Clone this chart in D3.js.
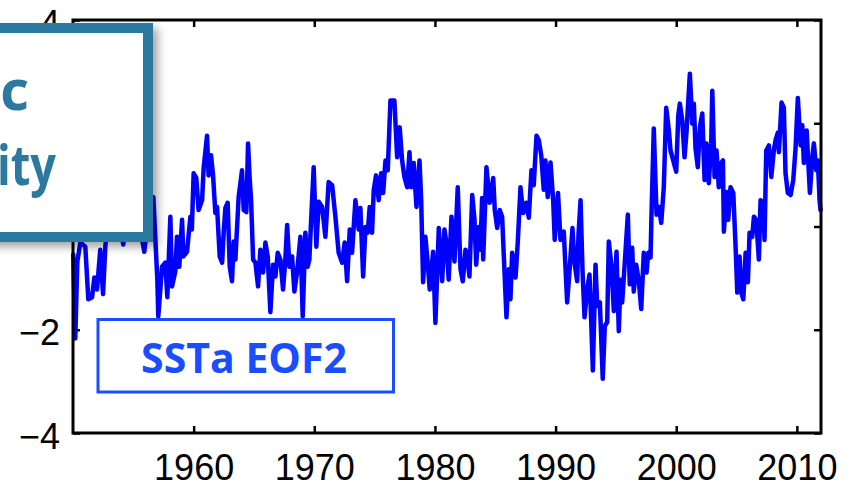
<!DOCTYPE html>
<html>
<head>
<meta charset="utf-8">
<script src="https://cdn.jsdelivr.net/npm/d3@7"></script>
<style>
  html, body { margin: 0; padding: 0; background: #fff; }
  svg { display: block; }
</style>
</head>
<body>
<svg></svg>
<script>
// SSTa EOF2 principal component
var years = [
  1950.02,1950.19,1950.36,1950.61,1951.02,1951.27,1951.58,1951.77,1951.99,1952.26,1952.49,1952.68,1952.93,1953.18,1953.42,1953.67,1953.92,1954.17,1954.42,1954.67,1954.92,1955.17,1955.41,1955.66,1955.91,1956.16,1956.41,1956.66,1956.99,1957.07,1957.38,1957.65,1957.82,1958.07,1958.21,1958.48,1958.62,1958.81,1959.04,1959.15,1959.45,1959.73,1959.85,
  1960.00,1960.22,1960.41,1960.70,1960.83,1961.11,1961.24,1961.44,1961.61,1961.80,1961.94,1962.16,1962.36,1962.49,1962.63,1962.82,1962.99,1963.18,1963.32,1963.46,1963.73,1964.01,1964.15,1964.37,1964.51,1964.64,1964.76,1964.93,1965.12,1965.34,1965.53,1965.76,1965.95,1966.14,1966.36,1966.58,1966.78,1966.97,1967.19,1967.41,1967.60,1967.75,1967.94,1968.16,1968.35,1968.57,1968.85,1969.04,1969.26,1969.45,1969.59,1969.76,1969.95,
  1970.17,1970.37,1970.65,1970.92,1971.19,1971.48,1971.75,1972.02,1972.31,1972.52,1972.72,1972.94,1973.13,1973.41,1973.68,1973.82,1974.05,1974.24,1974.43,1974.59,1974.79,1974.93,1975.12,1975.34,1975.54,1975.71,1975.90,1976.09,1976.31,1976.64,1976.87,1977.08,1977.28,1977.47,1977.70,1977.89,1978.03,1978.24,1978.47,1978.72,1978.86,1979.02,1979.21,1979.40,1979.57,1979.85,
  1980.04,1980.32,1980.60,1980.79,1980.95,1981.14,1981.37,1981.62,1981.89,1982.12,1982.31,1982.53,1982.67,1982.86,1983.09,1983.28,1983.42,1983.63,1983.77,1983.91,1984.00,1984.27,1984.54,1984.83,1984.96,1985.16,1985.37,1985.57,1985.93,1986.12,1986.26,1986.40,1986.68,1986.87,1987.09,1987.31,1987.56,1987.78,1988.00,1988.19,1988.42,1988.61,1988.81,1989.02,1989.16,1989.35,1989.58,1989.80,1989.93,
  1990.20,1990.41,1990.68,1990.96,1991.18,1991.40,1991.57,1991.79,1991.90,1992.07,1992.23,1992.40,1992.62,1992.81,1992.89,1993.09,1993.31,1993.45,1993.67,1993.91,1994.08,1994.28,1994.41,1994.64,1994.83,1995.05,1995.24,1995.38,1995.52,1995.71,1995.99,1996.15,1996.35,1996.48,1996.68,1996.90,1997.10,1997.31,1997.54,1997.68,1997.87,1997.95,1998.14,1998.37,1998.56,1998.76,1998.97,1999.17,1999.39,1999.53,1999.75,
  2000.00,2000.17,2000.30,2000.50,2000.69,2000.86,2001.13,2001.33,2001.46,2001.60,2001.79,2001.96,2002.16,2002.35,2002.51,2002.70,2002.90,2002.99,2003.18,2003.34,2003.53,2003.73,2003.87,2003.95,2004.17,2004.31,2004.50,2004.73,2004.92,2005.06,2005.25,2005.39,2005.56,2005.75,2005.94,2006.08,2006.30,2006.44,2006.63,2006.85,2006.99,2007.21,2007.32,2007.46,2007.68,2007.88,2008.09,2008.23,2008.43,2008.51,2008.73,2008.92,2009.06,2009.25,2009.48,2009.70,2009.89,
  2010.08,2010.31,2010.45,2010.58,2010.81,2010.95,2011.08,2011.28,2011.41,2011.61,2011.74,2011.88,2011.96
];
var eof2 = [
  -0.54,-2.17,-0.68,-0.31,-0.39,-1.41,-1.37,-0.99,-1.22,-0.45,-1.31,-0.39,0.23,0.51,0.13,0.42,-0.06,-0.35,0.13,0.51,0.23,0.61,0.03,-0.16,-0.49,0.03,0.42,0.57,-1.03,-1.74,-0.78,-0.70,-1.37,0.19,-1.16,-0.87,-0.20,-0.78,0.13,-0.58,-0.49,0.19,-0.06,
  1.03,0.94,0.32,0.51,1.13,1.76,0.99,1.38,0.99,0.26,0.38,-0.58,-0.70,-0.12,0.36,0.46,-0.78,-1.06,-0.29,-0.64,0.57,1.09,0.32,0.28,1.61,0.94,0.51,-0.64,-0.70,-1.16,-0.45,-0.89,-0.31,-0.58,-1.66,-0.74,-0.97,-0.51,-0.64,-1.22,-0.64,0.03,-0.78,-0.58,-1.26,-0.89,-0.20,-1.74,-0.12,-0.78,-0.64,0.23,1.15,
  -0.39,0.48,0.38,-0.20,0.86,0.80,0.19,-0.51,-0.70,-0.31,-1.06,-0.06,-0.51,0.51,-0.06,0.36,-0.97,-0.01,-0.12,0.38,-0.12,0.71,0.99,0.51,1.03,0.65,1.28,1.09,2.44,2.44,1.34,1.92,1.28,0.96,0.76,1.44,0.76,1.23,0.38,1.28,0.51,-1.08,-0.20,-0.70,-1.22,-0.49,
  -1.87,-0.03,-1.06,-0.06,-0.31,-1.03,0.19,-0.68,0.76,-0.83,-1.06,-0.45,-0.54,-0.97,0.61,0.13,-0.74,-0.01,-0.45,0.55,-0.64,1.15,0.46,0.94,0.32,-0.03,0.32,0.19,-1.76,-0.83,-1.41,-0.51,-0.99,-0.29,0.76,0.26,0.46,0.17,1.09,0.80,1.76,1.67,1.38,0.71,1.28,0.57,1.24,0.51,-0.26,
  0.65,-0.26,-0.10,-1.47,-0.78,-0.03,-0.70,-1.06,-0.16,0.51,-0.83,-1.76,-1.22,-0.93,-1.41,-2.79,-0.74,-1.54,-1.47,-2.95,-1.93,-1.85,-0.29,-0.78,-1.64,-0.49,-2.03,-1.03,-1.47,-0.79,0.23,-1.12,-0.41,-1.26,-0.74,-1.06,-1.60,-0.51,-0.89,-0.51,-0.60,0.23,1.90,0.23,0.38,0.07,0.76,2.30,1.86,1.47,1.28,
  1.06,2.15,2.38,2.05,1.34,1.86,2.96,1.99,2.38,1.51,1.15,1.92,2.19,0.90,1.61,0.84,1.61,2.63,0.96,1.47,0.76,1.23,1.28,-0.10,0.67,0.13,0.76,0.65,-0.39,-1.28,-0.58,-1.28,-1.41,-0.51,-1.08,-0.12,-0.20,0.19,0.13,-0.64,0.51,0.46,-0.26,1.47,1.57,0.96,1.47,1.67,1.82,1.44,2.40,2.30,1.03,0.65,0.61,0.90,1.51,
  2.49,1.57,1.96,1.23,1.86,1.23,0.65,1.34,1.61,1.09,1.28,0.51,0.32
];
var xTicks = [1960, 1970, 1980, 1990, 2000, 2010];
var yTicks = [-4, -2, 0, 2, 4];
// the labels for 0 and 2 sit under the callout box, only these show
var yLabelled = [-4, -2, 4];
var legendLabel = 'SSTa EOF2';
var boxLines = ['c', 'ity'];

var width = 856;
var height = 487;
var plotL = 73, plotR = 821, plotT = 20, plotB = 433;

var svg = d3.select('svg')
    .attr('width', width)
    .attr('height', height)
    .attr('viewBox', '0 0 ' + width + ' ' + height);

var x = d3.scaleLinear().domain([1950, 2012]).range([plotL, plotR]);
var y = d3.scaleLinear().domain([-4, 4]).range([plotB, plotT]);

var tickFont = '"Liberation Sans", Helvetica, Arial, sans-serif';

function styleAxis(g) {
    g.select('.domain').remove();
    g.selectAll('.tick line').attr('stroke', '#000').attr('stroke-width', 2.5);
    g.selectAll('.tick text')
        .attr('fill', '#000')
        .style('font-family', tickFont)
        .style('font-size', '36px');
}

svg.append('g')
    .attr('transform', 'translate(0,' + plotB + ')')
    .call(d3.axisBottom(x).tickValues(xTicks).tickFormat(d3.format('d'))
        .tickSize(-7).tickSizeOuter(0).tickPadding(21))
    .call(styleAxis);

svg.append('g')
    .attr('transform', 'translate(0,' + plotT + ')')
    .call(d3.axisTop(x).tickValues(xTicks).tickFormat('')
        .tickSize(-7).tickSizeOuter(0))
    .call(styleAxis);

var yFmt = d3.format('d');
svg.append('g')
    .attr('transform', 'translate(' + plotL + ',0)')
    .call(d3.axisLeft(y).tickValues(yTicks)
        .tickFormat(function (d) { return yLabelled.indexOf(d) >= 0 ? yFmt(d) : ''; })
        .tickSize(-7).tickSizeOuter(0).tickPadding(13))
    .call(styleAxis)
    .selectAll('.tick text').attr('dy', '0.42em');

svg.append('g')
    .attr('transform', 'translate(' + plotR + ',0)')
    .call(d3.axisRight(y).tickValues(yTicks).tickFormat('')
        .tickSize(-7).tickSizeOuter(0))
    .call(styleAxis);

// the series
var line = d3.line()
    .x(function (d, i) { return x(years[i]); })
    .y(function (d) { return y(d); });

svg.append('path')
    .datum(eof2)
    .attr('fill', 'none')
    .attr('stroke', '#0000ff')
    .attr('stroke-width', 4.5)
    .attr('stroke-linejoin', 'round')
    .attr('stroke-linecap', 'round')
    .attr('d', line);

// frame
svg.append('rect')
    .attr('x', plotL)
    .attr('y', plotT)
    .attr('width', plotR - plotL)
    .attr('height', plotB - plotT)
    .attr('fill', 'none')
    .attr('stroke', '#000')
    .attr('stroke-width', 3);

// legend label
svg.append('rect')
    .attr('x', 98)
    .attr('y', 319.5)
    .attr('width', 295.5)
    .attr('height', 72.5)
    .attr('fill', '#fff')
    .attr('stroke', '#1a4dff')
    .attr('stroke-width', 3);

svg.append('text')
    .attr('x', 244)
    .attr('y', 373)
    .attr('text-anchor', 'middle')
    .attr('fill', '#1a4dff')
    .style('font-family', '"Open Sans", sans-serif')
    .style('font-weight', 'bold')
    .style('font-size', '41px')
    .text(legendLabel);

// overlapping callout box at top left
var defs = svg.append('defs');
var shadow = defs.append('filter')
    .attr('id', 'shadow')
    .attr('x', '-20%').attr('y', '-20%')
    .attr('width', '150%').attr('height', '150%');
shadow.append('feDropShadow')
    .attr('dx', 5).attr('dy', 5)
    .attr('stdDeviation', 4)
    .attr('flood-color', '#000')
    .attr('flood-opacity', 0.35);

svg.append('rect')
    .attr('x', -20)
    .attr('y', 28)
    .attr('width', 168)
    .attr('height', 209)
    .attr('fill', '#fff')
    .attr('stroke', '#2c79a0')
    .attr('stroke-width', 10)
    .attr('filter', 'url(#shadow)');

svg.append('text')
    .attr('x', 29)
    .attr('y', 110)
    .attr('text-anchor', 'end')
    .attr('fill', '#2c79a0')
    .style('font-family', '"Open Sans", sans-serif')
    .style('font-weight', 'bold')
    .style('font-size', '56px')
    .text(boxLines[0]);

svg.append('text')
    .attr('x', -3)
    .attr('y', 185)
    .attr('textLength', 59)
    .attr('lengthAdjust', 'spacingAndGlyphs')
    .attr('fill', '#2c79a0')
    .style('font-family', '"Open Sans", sans-serif')
    .style('font-weight', 'bold')
    .style('font-size', '56px')
    .text(boxLines[1]);
</script>
</body>
</html>
